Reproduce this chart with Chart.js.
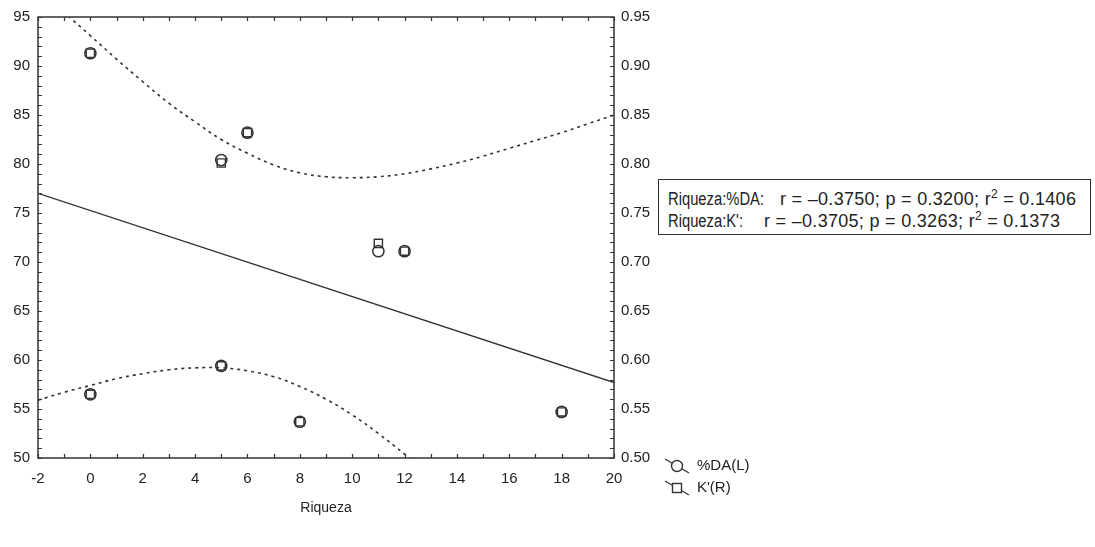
<!DOCTYPE html>
<html>
<head>
<meta charset="utf-8">
<script src="https://cdn.jsdelivr.net/npm/chart.js@4.4.1/dist/chart.umd.min.js"></script>
<style>
  html, body { margin: 0; padding: 0; background: #fff; }
  #wrap { position: relative; width: 1095px; height: 547px; font-family: "Liberation Sans", Arial, sans-serif; color: #222; }
  canvas { position: absolute; left: 0; top: 0; }
  #stats { position: absolute; left: 658px; top: 179px; width: 433px; height: 56px; border: 1.5px solid #333; box-sizing: border-box; background: #fff; }
  #stats span { position: absolute; font-size: 18px; line-height: 20px; white-space: nowrap; }
  #stats .val { letter-spacing: 0.3px; }
  #stats .lab { transform: scaleX(0.82); transform-origin: left center; }
  #stats sup { font-size: 12px; vertical-align: 7px; line-height: 0; }
  .leg { position: absolute; left: 662px; font-size: 15px; white-space: nowrap; }
  .leg svg { position: absolute; left: 0; top: 0; }
  .leg span { position: absolute; left: 35px; top: 0; }
</style>
</head>
<body>
<div id="wrap">
  <canvas id="c" width="1095" height="547"></canvas>
  <div id="stats">
    <span class="lab" style="left:9px; top:9px;">Riqueza:%DA:</span>
    <span class="val" style="left:121px; top:9px;">r = &ndash;0.3750; p = 0.3200; r<sup>2</sup> = 0.1406</span>
    <span class="lab" style="left:9px; top:31px;">Riqueza:K':</span>
    <span class="val" style="left:105px; top:31px;">r = &ndash;0.3705; p = 0.3263; r<sup>2</sup> = 0.1373</span>
  </div>
  <div class="leg" style="top:456px;">
    <svg width="32" height="20"><line x1="3" y1="3" x2="27" y2="17" stroke="#333" stroke-width="1.2"/><circle cx="15" cy="10" r="5.5" fill="#fff" stroke="#333" stroke-width="1.4"/></svg>
    <span>%DA(L)</span>
  </div>
  <div class="leg" style="top:478px;">
    <svg width="32" height="20"><line x1="3" y1="3" x2="27" y2="17" stroke="#333" stroke-width="1.2"/><rect x="10.5" y="5.5" width="9" height="9" fill="#fff" stroke="#333" stroke-width="1.4"/></svg>
    <span>K'(R)</span>
  </div>
</div>
<script>
// ---- data ----
const riqueza = [0, 0, 5, 5, 6, 8, 11, 12, 18];
const pctDA = [91.3, 56.5, 80.4, 59.4, 83.2, 53.7, 71.1, 71.1, 54.7];
const kPrime = [0.913, 0.565, 0.801, 0.594, 0.832, 0.537, 0.719, 0.711, 0.547];
const fitX = [-2, 20];
const fitY = [77.0, 57.7];
const bandUpperX = [-2, -1, 0, 1, 2, 3, 4, 5, 6, 7, 8, 9, 10, 11, 12, 13, 14, 15, 16, 17, 18, 19, 20];
const bandUpperY = [98.1, 95.5, 93.1, 90.7, 88.4, 86.2, 84.3, 82.5, 81.1, 79.9, 79.1, 78.7, 78.6, 78.7, 79.0, 79.5, 80.1, 80.8, 81.6, 82.4, 83.2, 84.1, 85.0];
const bandLowerX = [-2, -1, 0, 1, 2, 3, 4, 5, 6, 7, 8, 9, 10, 11, 12, 13, 14];
const bandLowerY = [55.9, 56.7, 57.4, 58.1, 58.6, 59.0, 59.2, 59.2, 58.9, 58.3, 57.3, 56.0, 54.4, 52.5, 50.4, 48.2, 45.8];
const xTickLabels = ['-2', '0', '2', '4', '6', '8', '10', '12', '14', '16', '18', '20'];
const yLeftTickLabels = ['50', '55', '60', '65', '70', '75', '80', '85', '90', '95'];
const yRightTickLabels = ['0.50', '0.55', '0.60', '0.65', '0.70', '0.75', '0.80', '0.85', '0.90', '0.95'];

const pts = (xs, ys) => xs.map((x, i) => ({ x: x, y: ys[i] }));
const INK = '#333';

const frame = {
  id: 'frame',
  afterDraw(chart) {
    const ctx = chart.ctx, a = chart.chartArea;
    const sx = chart.scales.x, sy = chart.scales.y, sr = chart.scales.y1;
    ctx.save();
    ctx.strokeStyle = INK;
    ctx.lineWidth = 1.5;
    ctx.strokeRect(a.left, a.top, a.right - a.left, a.bottom - a.top);
    ctx.lineWidth = 1.2;
    ctx.beginPath();
    for (let v = -2; v <= 20; v++) {
      const px = Math.round(sx.getPixelForValue(v)) + 0.5;
      ctx.moveTo(px, a.bottom); ctx.lineTo(px, a.bottom - 4);
      ctx.moveTo(px, a.top); ctx.lineTo(px, a.top + 4);
    }
    for (let v = 50; v <= 95; v++) {
      const py = Math.round(sy.getPixelForValue(v)) + 0.5;
      ctx.moveTo(a.left, py); ctx.lineTo(a.left + 4, py);
    }
    for (let v = 50; v <= 95; v++) {
      const py = Math.round(sr.getPixelForValue(v / 100)) + 0.5;
      ctx.moveTo(a.right, py); ctx.lineTo(a.right - 4, py);
    }
    ctx.stroke();
    ctx.restore();
  }
};

const font = { family: '"Liberation Sans", Arial, sans-serif', size: 15 };

new Chart(document.getElementById('c'), {
  type: 'scatter',
  data: {
    datasets: [
      { label: 'fit', data: pts(fitX, fitY), showLine: true, borderColor: INK, borderWidth: 1.3, pointRadius: 0, yAxisID: 'y' },
      { label: 'upper', data: pts(bandUpperX, bandUpperY), showLine: true, borderColor: INK, borderWidth: 1.6, borderDash: [3, 4], pointRadius: 0, tension: 0.4, yAxisID: 'y' },
      { label: 'lower', data: pts(bandLowerX, bandLowerY), showLine: true, borderColor: INK, borderWidth: 1.6, borderDash: [3, 4], pointRadius: 0, tension: 0.4, yAxisID: 'y' },
      { label: "K'(R)", data: pts(riqueza, kPrime), pointStyle: 'rect', pointRadius: 5.8, borderColor: INK, borderWidth: 1.4, backgroundColor: 'rgba(0,0,0,0)', yAxisID: 'y1' },
      { label: '%DA(L)', data: pts(riqueza, pctDA), pointStyle: 'circle', pointRadius: 5.6, borderColor: INK, borderWidth: 1.5, backgroundColor: 'rgba(0,0,0,0)', yAxisID: 'y' }
    ]
  },
  options: {
    responsive: false,
    animation: false,
    layout: { padding: { top: 16, left: 0, right: 431, bottom: 24 } },
    plugins: { legend: { display: false }, tooltip: { enabled: false } },
    scales: {
      x: {
        type: 'linear', min: -2, max: 20,
        afterBuildTicks: s => { s.ticks = xTickLabels.map(t => ({ value: Number(t) })); },
        ticks: { font: font, color: '#222', padding: 12, callback: v => String(v), maxRotation: 0, autoSkip: false },
        grid: { display: false, drawTicks: false },
        border: { display: false },
        title: { display: true, text: 'Riqueza', font: { family: font.family, size: 14 }, color: '#222', padding: { top: 10, bottom: 6 } },
        afterFit: s => { s.height = 65; }
      },
      y: {
        type: 'linear', position: 'left', min: 50, max: 95,
        afterBuildTicks: s => { s.ticks = yLeftTickLabels.map(t => ({ value: Number(t) })); },
        ticks: { font: font, color: '#222', padding: 8, callback: v => String(v), autoSkip: false },
        grid: { display: false, drawTicks: false },
        border: { display: false },
        afterFit: s => { s.width = 38; }
      },
      y1: {
        type: 'linear', position: 'right', min: 0.5, max: 0.95,
        afterBuildTicks: s => { s.ticks = yRightTickLabels.map(t => ({ value: Number(t) })); },
        ticks: { font: font, color: '#222', padding: 7, callback: v => Number(v).toFixed(2), autoSkip: false },
        grid: { display: false, drawTicks: false },
        border: { display: false },
        afterFit: s => { s.width = 50; }
      }
    }
  },
  plugins: [frame]
});
</script>
</body>
</html>
